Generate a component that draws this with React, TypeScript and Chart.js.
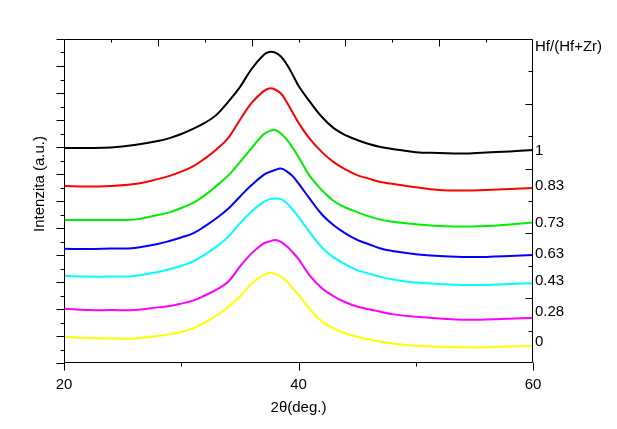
import React, { useEffect, useRef } from 'react';
import { Chart, registerables } from 'chart.js';

Chart.register(...registerables);

// 2θ positions (deg.)
const twoTheta = [20, 22, 24, 26, 28, 29, 30, 31, 32, 33, 34, 35, 36, 37, 37.5, 38, 38.5, 39, 39.5, 40, 41, 42, 43, 44, 45, 46, 47, 48, 50, 52, 54, 56, 58, 60];

// Intensity (a.u., offset stacked) per Hf/(Hf+Zr) ratio
const hf100 = [796, 796, 798, 807, 822, 833, 848, 867, 889, 919, 967, 1022, 1089, 1140, 1152, 1150, 1135, 1106, 1068, 1027, 966, 911, 870, 844, 826, 811, 800, 793, 781, 778, 776, 780, 783, 789];
const hf083 = [656, 654, 656, 663, 681, 693, 709, 728, 757, 791, 833, 900, 963, 1006, 1017, 1013, 998, 966, 928, 890, 828, 781, 744, 717, 696, 683, 670, 664, 651, 641, 639, 641, 644, 648];
const hf073 = [530, 530, 530, 531, 548, 558, 574, 593, 621, 656, 694, 744, 796, 846, 859, 863, 850, 827, 797, 763, 690, 640, 600, 576, 559, 543, 531, 523, 514, 507, 506, 507, 513, 520];
const hf063 = [423, 422, 424, 426, 441, 452, 465, 480, 506, 536, 571, 616, 659, 696, 707, 715, 720, 710, 692, 665, 606, 550, 510, 480, 456, 440, 424, 415, 403, 396, 393, 393, 396, 400];
const hf043 = [323, 320, 320, 322, 337, 347, 360, 376, 401, 431, 467, 517, 561, 596, 606, 609, 607, 592, 568, 541, 482, 428, 391, 365, 344, 331, 319, 310, 298, 293, 289, 289, 293, 295];
const hf028 = [201, 196, 196, 196, 206, 211, 220, 231, 250, 272, 301, 357, 406, 442, 450, 456, 449, 432, 410, 385, 322, 277, 247, 225, 209, 199, 190, 181, 171, 165, 160, 161, 164, 168];
const hf000 = [97, 93, 91, 91, 100, 106, 115, 128, 150, 176, 207, 246, 294, 325, 333, 331, 320, 302, 277, 252, 198, 154, 127, 110, 97, 88, 79, 72, 64, 60, 58, 58, 61, 64];

const seriesData = [hf100, hf083, hf073, hf063, hf043, hf028, hf000];
const seriesNames = ['1', '0.83', '0.73', '0.63', '0.43', '0.28', '0'];
const seriesColors = ['#000000', '#ff0000', '#00ee00', '#0000ff', '#00ffff', '#ff00ff', '#ffff00'];

// Right-hand annotation labels and their intensity levels
const rightLabelTexts = ['Hf/(Hf+Zr)', '1', '0.83', '0.73', '0.63', '0.43', '0.28', '0'];
const rightLabelLevels = [1172, 787, 657, 520, 406, 304, 189, 78];

// Axis ranges / ticks
const xMin = 20;
const xMax = 60;
const xMajorStep = 20;
const xMinorTicks = [30, 50];
const xTopTicks = [24, 28, 32, 36, 40, 44, 48, 52, 56];
const yMin = 0;
const yMax = 1200;
const yLeftTicks = [0, 50, 100, 150, 200, 250, 300, 350, 400, 450, 500, 550, 600, 650, 700, 750, 800, 850, 900, 950, 1000, 1050, 1100, 1150, 1200];
const yRightTicks = [120, 240, 360, 480, 600, 720, 840, 960, 1080];

const xTitle = '2θ(deg.)';
const yTitle = 'Intenzita (a.u.)';

const FONT = '"Liberation Sans", Arial, Helvetica, sans-serif';

const framePlugin = {
  id: 'frameTicks',
  afterDraw(chart: any) {
    const { ctx, chartArea: a, scales } = chart;
    const xs = scales.x;
    const ys = scales.y;
    const L = Math.round(a.left) + 0.5;
    const R = Math.round(a.right) - 0.5;
    const T = Math.round(a.top) + 0.5;
    const B = Math.round(a.bottom) - 0.5;
    ctx.save();
    ctx.strokeStyle = '#000';
    ctx.lineWidth = 1;
    const line = (x1: number, y1: number, x2: number, y2: number) => {
      ctx.beginPath();
      ctx.moveTo(x1, y1);
      ctx.lineTo(x2, y2);
      ctx.stroke();
    };
    line(L, T, R, T);
    line(L, B, R, B);
    line(L, T, L, B);
    line(R, T, R, B);
    // left ticks (outward)
    yLeftTicks.forEach((v) => {
      const py = Math.round(ys.getPixelForValue(v)) + 0.5;
      const len = v % 100 === 0 ? 8 : 4;
      line(L - len, py, L, py);
    });
    // right ticks (inward)
    yRightTicks.forEach((v, i) => {
      const py = Math.round(ys.getPixelForValue(v)) + 0.5;
      const len = i % 2 === 1 ? 7 : 4;
      line(R - len, py, R, py);
    });
    // bottom ticks (outward)
    for (let v = xMin; v <= xMax; v += xMajorStep) {
      const px = Math.round(xs.getPixelForValue(v)) + 0.5;
      line(px, B, px, B + 8);
    }
    xMinorTicks.forEach((v) => {
      const px = Math.round(xs.getPixelForValue(v)) + 0.5;
      line(px, B, px, B + 4);
    });
    // top ticks (inward)
    xTopTicks.forEach((v, i) => {
      const px = Math.round(xs.getPixelForValue(v)) + 0.5;
      const len = i % 2 === 1 ? 7 : 3;
      line(px, T, px, T + len);
    });
    // y-axis title
    ctx.fillStyle = '#000';
    ctx.font = '15px ' + FONT;
    ctx.textAlign = 'center';
    ctx.textBaseline = 'middle';
    ctx.translate(40, (a.top + a.bottom) / 2 - 17);
    ctx.rotate(-Math.PI / 2);
    ctx.fillText(yTitle, 0, 0);
    ctx.restore();
  },
};

export default function App() {
  const canvasRef = useRef<HTMLCanvasElement | null>(null);

  useEffect(() => {
    const canvas = canvasRef.current;
    if (!canvas) return;
    const chart = new Chart(canvas, {
      type: 'line',
      data: {
        labels: twoTheta,
        datasets: seriesData.map((d, i) => ({
          label: seriesNames[i],
          data: d.map((v, j) => ({ x: twoTheta[j], y: v })),
          borderColor: seriesColors[i],
          backgroundColor: seriesColors[i],
          borderWidth: 2,
          pointRadius: 0,
          tension: 0.4,
          fill: false,
          xAxisID: 'x',
          yAxisID: 'y',
        })),
      },
      options: {
        responsive: false,
        animation: false,
        devicePixelRatio: 1,
        layout: { padding: { top: 39, left: 0, right: 0, bottom: 0 } },
        plugins: {
          legend: { display: false },
          tooltip: { enabled: false },
          title: { display: false },
        },
        scales: {
          x: {
            type: 'linear',
            position: 'bottom',
            min: xMin,
            max: xMax,
            grid: { display: false, drawTicks: false },
            border: { display: false },
            ticks: {
              stepSize: xMajorStep,
              color: '#000',
              font: { family: FONT, size: 15 },
              padding: 13,
              maxRotation: 0,
            },
            title: {
              display: true,
              text: xTitle,
              color: '#000',
              font: { family: FONT, size: 15 },
              padding: { top: 0, bottom: 12 },
            },
            afterFit: (s: any) => {
              s.height = 66;
            },
          },
          y: {
            type: 'linear',
            position: 'left',
            min: yMin,
            max: yMax,
            grid: { display: false, drawTicks: false },
            border: { display: false },
            ticks: { display: false },
            afterFit: (s: any) => {
              s.width = 64;
            },
          },
          yLab: {
            type: 'linear',
            position: 'right',
            min: yMin,
            max: yMax,
            grid: { display: false, drawTicks: false },
            border: { display: false },
            afterBuildTicks: (s: any) => {
              s.ticks = rightLabelLevels.map((v) => ({ value: v }));
            },
            ticks: {
              autoSkip: false,
              color: '#000',
              font: { family: FONT, size: 15 },
              padding: 2,
              callback: (_v: any, i: number) => rightLabelTexts[i],
            },
            afterFit: (s: any) => {
              s.width = 84;
            },
          },
        },
      },
      plugins: [framePlugin],
    });
    return () => chart.destroy();
  }, []);

  return (
    <div style={{ position: 'absolute', left: 0, top: 0, width: 617, height: 429, background: '#fff' }}>
      <canvas ref={canvasRef} width={617} height={429} />
    </div>
  );
}
